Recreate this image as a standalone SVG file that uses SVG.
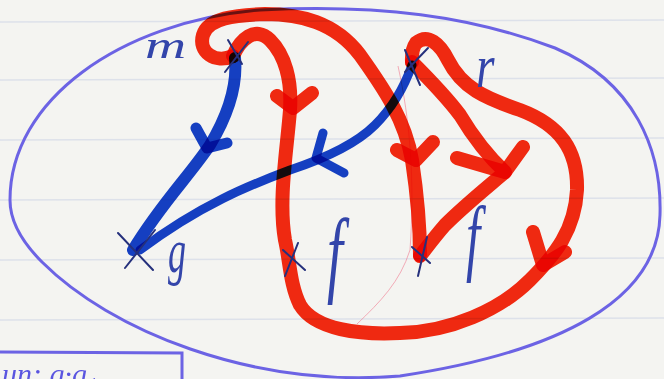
<svg xmlns="http://www.w3.org/2000/svg" width="664" height="379" viewBox="0 0 664 379">
<style>
.paper{fill:#f4f4f1}
.rule{stroke:#dde1ea;stroke-width:1.5}
.outline{fill:none;stroke:#6c63e4;stroke-width:3;stroke-linecap:round}
.red{fill:none;stroke:#fa2a12;stroke-width:14;stroke-linecap:round;stroke-linejoin:round;mix-blend-mode:multiply}
.blue{fill:none;stroke:#1642cc;stroke-linecap:round;stroke-linejoin:round;mix-blend-mode:multiply}
.xmark{fill:none;stroke:#25307c;stroke-width:2;stroke-linecap:round}
.lbl{font-family:"Liberation Serif","DejaVu Serif",serif;font-style:italic;fill:#3345aa}
.pink{fill:none;stroke:#f07a90;stroke-width:1;opacity:0.6}
</style>
<rect class="paper" x="0" y="0" width="664" height="379"/>
<g id="paper-rules">
<line class="rule" x1="0" y1="22" x2="664" y2="20"/>
<line class="rule" x1="0" y1="80" x2="664" y2="78"/>
<line class="rule" x1="0" y1="140" x2="664" y2="138"/>
<line class="rule" x1="0" y1="200" x2="664" y2="198"/>
<line class="rule" x1="0" y1="260" x2="664" y2="258"/>
<line class="rule" x1="0" y1="320" x2="664" y2="318"/>
</g>
<path id="outline" class="outline" d="M10,200 C10,100 120,22 260,10 C380,4 470,16 555,48 C635,82 662,150 660,215 C658,300 560,352 400,376 C250,388 110,330 42,262 C22,242 10,222 10,200 Z"/>
<g id="legend-box">
<path class="outline" d="M0,352 L182,353 L182,379"/>
<text x="2" y="384" font-family="Liberation Serif, serif" font-style="italic" font-size="30" fill="#5a55e0">un: g·g₁</text>
</g>
<path class="pink" d="M398,66 C410,120 415,180 410,250 C400,282 380,302 357,324"/>
<g id="connectors">
<path class="red" d="M233,56 C215,64 198,52 203,35 C208,18 235,15 265,14 C300,14 335,22 360,55 C385,90 405,120 412,160 C418,200 420,230 420,255"/>
<path class="red" d="M397,150 L416,160 L433,142"/>
<path class="red" d="M233,56 C240,40 255,25 270,40 C285,55 292,80 290,110 C287,150 278,200 285,240 C290,262 290,285 300,305 C315,330 360,335 400,333 C450,332 500,310 530,280 C555,255 575,230 577,190 C578,150 560,125 520,110 C485,98 462,88 448,60 C440,44 428,33 416,43 C411,50 412,58 412,62"/>
<path class="red" d="M277,96 L293,108 L312,93"/>
<path class="red" d="M533,232 L543,265 L565,252"/>
<path class="red" d="M412,62 C430,80 445,95 460,115 C475,140 490,158 505,172 C490,185 465,205 445,225 C432,240 425,250 420,256"/>
<path class="red" d="M457,158 L505,172 L523,147"/>
<path class="blue" stroke-width="12" d="M235,58 C238,90 225,120 210,145 C190,175 160,205 133,250"/>
<path class="blue" stroke-width="11" d="M196,128 L207,148 L227,143"/>
<path class="blue" stroke-width="9" d="M412,65 C405,85 395,105 375,125 C355,145 320,160 290,170 C250,185 200,205 140,250"/>
<path class="blue" stroke-width="9" d="M323,133 L316,158 L344,173"/>
</g>
<g id="node-m">
<path class="xmark" d="M228,40 L242,64 M248,42 L225,72"/>
<text class="lbl" transform="translate(145,58) scale(1.9,1.25)" font-size="30">m</text>
</g>
<g id="node-r">
<path class="xmark" d="M405,50 L420,85 M428,48 L405,72"/>
<text class="lbl" transform="translate(476,87) scale(1.4,1.8)" font-size="34">r</text>
</g>
<g id="node-g">
<path class="xmark" d="M118,233 L153,270 M155,230 L125,268"/>
<text class="lbl" transform="translate(168,272) scale(0.75,1.3)" font-size="48">g</text>
</g>
<g id="node-f1">
<path class="xmark" d="M283,250 L305,270 M298,243 L285,276"/>
<text class="lbl" transform="translate(327,285) scale(0.6,1)" font-size="95">f</text>
</g>
<g id="node-f2">
<path class="xmark" d="M412,247 L430,263 M427,237 L418,276"/>
<text class="lbl" transform="translate(466,265) scale(0.6,1)" font-size="85">f</text>
</g>
</svg>
